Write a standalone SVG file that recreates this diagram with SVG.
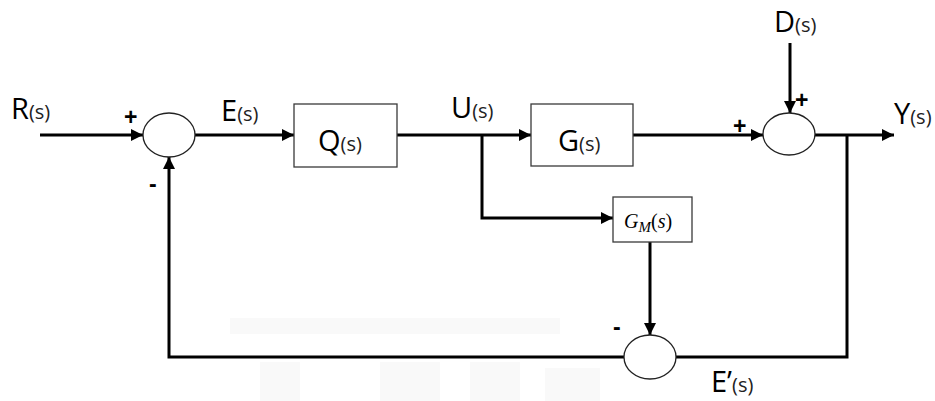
<svg xmlns="http://www.w3.org/2000/svg" width="935" height="401" viewBox="0 0 935 401">
  <defs>
    <marker id="arrow" viewBox="0 0 10 10" refX="10" refY="5" markerWidth="4" markerHeight="4" orient="auto" markerUnits="strokeWidth">
      <path d="M0,0 L10,5 L0,10 z" fill="#000"/>
    </marker>
    <style>
      .wire { fill: none; stroke: #000; stroke-width: 3; }
      .block { fill: #fff; stroke: #3a3a3a; stroke-width: 1.3; }
      .sum { fill: #fff; stroke: #222; stroke-width: 1.3; }
      .lbl { font-family: "Open Sans", "Liberation Sans", sans-serif; font-size: 29px; fill: #000; }
      .sub { font-size: 20px; fill: #222; }
      .sign { font-family: "Liberation Sans", sans-serif; font-size: 23px; font-weight: bold; fill: #000; }
      .math { font-family: "Liberation Serif", "DejaVu Serif", serif; font-style: italic; font-size: 20px; fill: #000; }
      .haze { fill: #000; opacity: 0.025; }
    </style>
  </defs>
  <rect width="935" height="401" fill="#fff"/>

  <!-- faint background blocks along the bottom -->
  <g id="background">
    <rect class="haze" x="230" y="318" width="330" height="16"/>
    <rect class="haze" x="260" y="362" width="40" height="39"/>
    <rect class="haze" x="380" y="362" width="60" height="39"/>
    <rect class="haze" x="470" y="362" width="50" height="39"/>
    <rect class="haze" x="545" y="368" width="55" height="33"/>
  </g>

  <!-- signal lines -->
  <g id="connectors">
    <line class="wire" x1="40" y1="135" x2="143" y2="135" marker-end="url(#arrow)"/>
    <line class="wire" x1="195" y1="135" x2="294" y2="135" marker-end="url(#arrow)"/>
    <line class="wire" x1="397" y1="135" x2="531" y2="135" marker-end="url(#arrow)"/>
    <polyline class="wire" points="482,135 482,218 613,218" marker-end="url(#arrow)"/>
    <line class="wire" x1="633" y1="135" x2="763" y2="135" marker-end="url(#arrow)"/>
    <line class="wire" x1="790" y1="43" x2="790" y2="113" marker-end="url(#arrow)"/>
    <line class="wire" x1="815" y1="135" x2="894" y2="135" marker-end="url(#arrow)"/>
    <line class="wire" x1="650" y1="242" x2="650" y2="335" marker-end="url(#arrow)"/>
    <polyline class="wire" points="847,135 847,357 676,357"/>
    <polyline class="wire" points="624,357 169,357 169,157" marker-end="url(#arrow)"/>
  </g>

  <g id="input-label">
    <text class="lbl" x="11" y="119">R<tspan class="sub">(s)</tspan></text>
  </g>

  <g id="sum1">
    <ellipse class="sum" cx="169" cy="135" rx="26" ry="22"/>
    <text class="sign" x="124" y="125">+</text>
    <text class="sign" x="149" y="192">-</text>
  </g>

  <g id="error-label">
    <text class="lbl" x="221" y="121">E<tspan class="sub">(s)</tspan></text>
  </g>

  <g id="Q">
    <rect class="block" x="294" y="104" width="103" height="63"/>
    <text class="lbl" x="318" y="151">Q<tspan class="sub">(s)</tspan></text>
  </g>

  <g id="control-label">
    <text class="lbl" x="451" y="118">U<tspan class="sub">(s)</tspan></text>
  </g>

  <g id="G">
    <rect class="block" x="531" y="104" width="102" height="62"/>
    <text class="lbl" x="558" y="151">G<tspan class="sub">(s)</tspan></text>
  </g>

  <g id="GM">
    <rect class="block" x="613" y="197" width="79" height="45"/>
    <text class="math" x="624" y="228">G<tspan font-size="15" dy="4">M</tspan><tspan dy="-4" font-style="normal">(</tspan>s<tspan font-style="normal">)</tspan></text>
  </g>

  <g id="disturbance-label">
    <text class="lbl" x="774" y="32">D<tspan class="sub">(s)</tspan></text>
  </g>

  <g id="sum2">
    <ellipse class="sum" cx="789" cy="134" rx="26" ry="21"/>
    <text class="sign" x="795" y="108">+</text>
    <text class="sign" x="733" y="134">+</text>
  </g>

  <g id="output-label">
    <text class="lbl" x="894" y="124">Y<tspan class="sub">(s)</tspan></text>
  </g>

  <g id="sum3">
    <ellipse class="sum" cx="650" cy="357" rx="26" ry="22"/>
    <text class="sign" x="613" y="335">-</text>
    <text class="lbl" x="711" y="392">E’<tspan class="sub">(s)</tspan></text>
  </g>
</svg>
